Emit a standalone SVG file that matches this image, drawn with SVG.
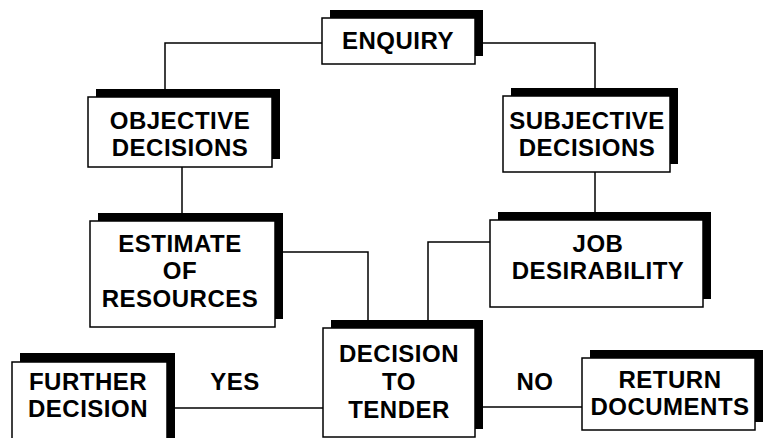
<svg xmlns="http://www.w3.org/2000/svg" width="770" height="438" viewBox="0 0 770 438">
<style>
.sh{fill:#000}
.bx{fill:#fff;stroke:#000;stroke-width:1.5}
.t{font-family:"Liberation Sans",Arial,sans-serif;font-weight:bold;font-size:24px;text-anchor:middle;fill:#000;letter-spacing:0.5px}
.c{fill:none;stroke:#000;stroke-width:1.5}
</style>
<rect width="770" height="438" fill="#fff"/>
<g id="connectors">
<polyline class="c" points="322,43 165,43 165,90"/>
<polyline class="c" points="475,43 595,43 595,90"/>
<line class="c" x1="182" y1="167" x2="182" y2="214"/>
<line class="c" x1="595" y1="172" x2="595" y2="213"/>
<polyline class="c" points="283,252 368,252 368,322"/>
<polyline class="c" points="490,242 428,242 428,322"/>
<line class="c" x1="175" y1="408" x2="323" y2="408"/>
<line class="c" x1="483" y1="407" x2="582" y2="407"/>
<text class="t" x="235" y="390">YES</text>
<text class="t" x="535" y="390">NO</text>
</g>
<g id="enquiry">
<rect class="sh" x="330" y="10" width="153" height="46"/>
<rect class="bx" x="322" y="18" width="153" height="46"/>
<text class="t" x="398" y="49">ENQUIRY</text>
</g>
<g id="objective">
<rect class="sh" x="96" y="89" width="184" height="70"/>
<rect class="bx" x="88" y="97" width="184" height="70"/>
<text class="t" x="180" y="129">OBJECTIVE</text>
<text class="t" x="180" y="156">DECISIONS</text>
</g>
<g id="subjective">
<rect class="sh" x="511" y="88" width="167" height="76"/>
<rect class="bx" x="503" y="96" width="167" height="76"/>
<text class="t" x="587" y="129">SUBJECTIVE</text>
<text class="t" x="587" y="156">DECISIONS</text>
</g>
<g id="estimate">
<rect class="sh" x="98" y="213" width="185" height="106"/>
<rect class="bx" x="90" y="221" width="185" height="106"/>
<text class="t" x="180" y="252">ESTIMATE</text>
<text class="t" x="180" y="279">OF</text>
<text class="t" x="180" y="307">RESOURCES</text>
</g>
<g id="job">
<rect class="sh" x="498" y="212" width="213" height="87"/>
<rect class="bx" x="490" y="220" width="213" height="87"/>
<text class="t" x="598" y="252">JOB</text>
<text class="t" x="598" y="279">DESIRABILITY</text>
</g>
<g id="decision">
<rect class="sh" x="331" y="320" width="152" height="109"/>
<rect class="bx" x="323" y="328" width="152" height="109"/>
<text class="t" x="399" y="362">DECISION</text>
<text class="t" x="399" y="390">TO</text>
<text class="t" x="399" y="418">TENDER</text>
</g>
<g id="further">
<rect class="sh" x="20" y="353" width="155" height="100"/>
<rect class="bx" x="12" y="362" width="155" height="100"/>
<text class="t" x="88" y="390">FURTHER</text>
<text class="t" x="88" y="417">DECISION</text>
</g>
<g id="return">
<rect class="sh" x="590" y="350" width="173" height="72"/>
<rect class="bx" x="582" y="358" width="173" height="72"/>
<text class="t" x="670" y="388">RETURN</text>
<text class="t" x="670" y="415">DOCUMENTS</text>
</g>
</svg>
